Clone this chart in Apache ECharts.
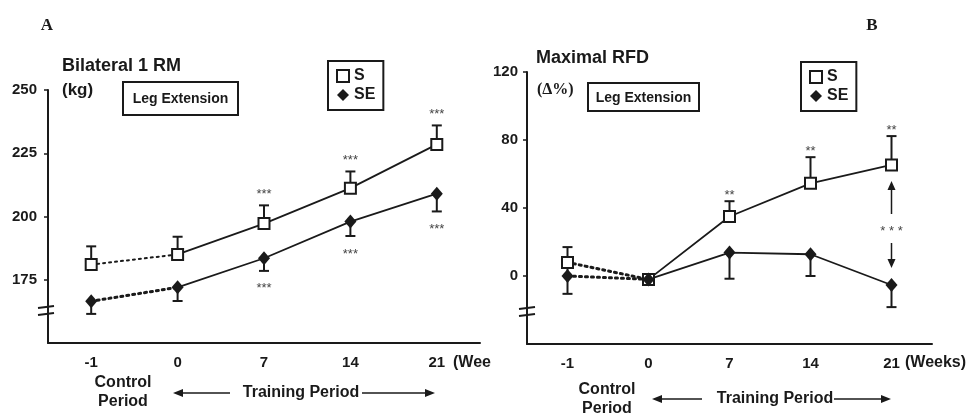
<!DOCTYPE html>
<html>
<head>
<meta charset="utf-8">
<script src="https://cdn.jsdelivr.net/npm/echarts@6/dist/echarts.min.js"></script>
<style>
  html, body { margin: 0; padding: 0; background: #fff; }
  #chart { width: 968px; height: 414px; }
</style>
</head>
<body>
<div id="chart"></div>
<script>
// Measurement weeks (control period at -1, training from 0 to 21)
const weeks = ['-1', '0', '7', '14', '21'];

// Panel A: bilateral 1 RM, leg extension (kg), mean and SE
const rmS      = [181, 185, 197.2, 211.2, 228.5];
const rmSErr   = [7.2, 7, 7.2, 6.6, 7.5];
const rmSE     = [166.5, 172, 183.5, 198, 209];
const rmSEErr  = [5, 5.4, 5, 5.7, 7];
const rmSSig   = ['', '', '***', '***', '***'];
const rmSESig  = ['', '', '***', '***', '***'];

// Panel B: maximal RFD, leg extension (change in %), mean and SE
const rfdS       = [8, -2, 35, 54.5, 65.3];
const rfdSErr    = [9, 0, 9, 15.4, 17];
const rfdSE      = [0, -2, 13.8, 12.8, -5.3];
const rfdSEErr   = [10.5, 0, 15.4, 12.8, 13];
const rfdSEErrUp = [8, 0, 0, 0, 0];
const rfdSSig    = ['', '', '**', '**', '**'];
const rfdSESig   = ['', '', '', '', ''];
// S vs SE difference at week 21
const rfdGapIndex = 4;
const rfdGapSig   = '* * *';

const INK  = '#1a1a1a';
const SANS = '"Liberation Sans", Arial, Helvetica, sans-serif';
const SERIF = '"Liberation Serif", "Times New Roman", serif';
const zeros = weeks.map(() => 0);

const onlyControl  = arr => arr.map((v, i) => (i <= 1 ? v : '-'));
const onlyTraining = arr => arr.map((v, i) => (i >= 1 ? v : '-'));

function lineSeries(p, values, dotted, width) {
  return {
    type: 'line', xAxisIndex: p, yAxisIndex: p, z: 2, silent: true,
    data: dotted ? onlyControl(values) : onlyTraining(values),
    symbol: 'none',
    lineStyle: { color: INK, width: width, type: dotted ? [2, 4] : 'solid', cap: 'round', opacity: 1 }
  };
}

function errorSeries(p, values, hi, lo) {
  return {
    type: 'custom', xAxisIndex: p, yAxisIndex: p, z: 3, silent: true,
    data: values.map((v, i) => [i, v, hi[i], lo[i]]),
    renderItem(params, api) {
      const i = api.value(0), v = api.value(1), h = api.value(2), l = api.value(3);
      if (!(h > 0) && !(l > 0)) return null;
      const top = api.coord([i, v + h]);
      const bot = api.coord([i, v - l]);
      const st = { stroke: INK, lineWidth: 2 };
      const kids = [{ type: 'line', shape: { x1: top[0], y1: top[1], x2: bot[0], y2: bot[1] }, style: st }];
      if (h > 0) kids.push({ type: 'line', shape: { x1: top[0] - 5, y1: top[1], x2: top[0] + 5, y2: top[1] }, style: st });
      if (l > 0) kids.push({ type: 'line', shape: { x1: bot[0] - 5, y1: bot[1], x2: bot[0] + 5, y2: bot[1] }, style: st });
      return { type: 'group', children: kids };
    }
  };
}

// significance marks: dir = +1 above the upper error cap, -1 below the lower one
function sigSeries(p, values, err, sig, dir, gap) {
  return {
    type: 'custom', xAxisIndex: p, yAxisIndex: p, z: 5, silent: true,
    data: values.map((v, i) => [i, v + dir * err[i]]),
    renderItem(params, api) {
      const t = sig[params.dataIndex];
      if (!t) return null;
      const pt = api.coord([api.value(0), api.value(1)]);
      return {
        type: 'text', x: pt[0], y: pt[1] - dir * gap + 3,
        style: { text: t, fill: '#444', font: '13px ' + SANS,
                 align: 'center', verticalAlign: 'middle', textAlign: 'center', textVerticalAlign: 'middle' }
      };
    }
  };
}

function markerSeries(p, name, values) {
  const isS = name === 'S';
  return {
    type: 'scatter', name: name, xAxisIndex: p, yAxisIndex: p, z: isS ? 6 : 7, silent: true,
    data: values,
    symbol: isS ? 'rect' : 'diamond',
    symbolSize: isS ? 11 : [12, 14],
    itemStyle: isS ? { color: '#fff', borderColor: INK, borderWidth: 2, opacity: 1 }
                   : { color: INK, opacity: 1 },
    emphasis: { disabled: true }
  };
}

// arrows with stars between the two groups at one time point
const gapSeries = {
  type: 'custom', xAxisIndex: 1, yAxisIndex: 1, z: 5, silent: true,
  data: [[rfdGapIndex, rfdS[rfdGapIndex], rfdSE[rfdGapIndex]]],
  renderItem(params, api) {
    const a = api.coord([api.value(0), api.value(1)]);
    const b = api.coord([api.value(0), api.value(2)]);
    const x = a[0];
    const mid = (a[1] + b[1]) / 2 + 3;
    const st = { stroke: INK, lineWidth: 1.5 };
    const upTip = a[1] + 16, downTip = b[1] - 17;
    return {
      type: 'group', children: [
        { type: 'line', shape: { x1: x, y1: mid - 14, x2: x, y2: upTip + 6 }, style: st },
        { type: 'polygon', shape: { points: [[x, upTip], [x - 4, upTip + 9], [x + 4, upTip + 9]] }, style: { fill: INK } },
        { type: 'line', shape: { x1: x, y1: mid + 15, x2: x, y2: downTip - 6 }, style: st },
        { type: 'polygon', shape: { points: [[x, downTip], [x - 4, downTip - 9], [x + 4, downTip - 9]] }, style: { fill: INK } },
        { type: 'text', x: x, y: mid + 3,
          style: { text: rfdGapSig, fill: '#444', font: '13px ' + SANS,
                   align: 'center', verticalAlign: 'middle', textAlign: 'center', textVerticalAlign: 'middle' } }
      ]
    };
  }
};

function xAxis(p) {
  return {
    type: 'category', gridIndex: p, data: weeks, boundaryGap: true,
    axisLine: { onZero: false, lineStyle: { color: INK, width: 2 } },
    axisTick: { inside: true, length: 6, alignWithLabel: true, lineStyle: { color: INK, width: 1.5 } },
    axisLabel: { color: INK, fontFamily: SANS, fontWeight: 'bold', fontSize: 15, margin: 12 },
    splitLine: { show: false }
  };
}

function yAxis(p, min, max, interval, margin) {
  return {
    type: 'value', gridIndex: p, min: min, max: max, interval: interval,
    axisLine: { show: true, onZero: false, lineStyle: { color: INK, width: 2 } },
    axisTick: { show: true, length: 4, lineStyle: { color: INK, width: 1.5 } },
    axisLabel: { color: INK, fontFamily: SANS, fontWeight: 'bold', fontSize: 15, margin: margin, showMinLabel: false },
    splitLine: { show: false }
  };
}

function legend(left, top) {
  return {
    show: true, left: left, top: top, orient: 'vertical', selectedMode: false,
    padding: [7, 8, 7, 8], itemGap: 3, itemWidth: 12, itemHeight: 12,
    borderColor: INK, borderWidth: 2, borderRadius: 0, backgroundColor: '#fff',
    textStyle: { color: INK, fontFamily: SANS, fontWeight: 'bold', fontSize: 16 },
    data: [
      { name: 'S', icon: 'rect', itemStyle: { color: '#fff', borderColor: INK, borderWidth: 2, opacity: 1 } },
      { name: 'SE', icon: 'diamond', itemStyle: { color: INK, borderWidth: 0, opacity: 1 } }
    ]
  };
}

function text(x, y, t, font, align, extra) {
  return Object.assign({
    type: 'text', x: x, y: y, silent: true,
    style: { text: t, font: font, fill: INK, align: align || 'left', verticalAlign: 'middle',
             textAlign: align || 'left', textVerticalAlign: 'middle' }
  }, extra || {});
}

function boxLabel(x, y, w, h, t) {
  return [
    { type: 'rect', shape: { x: x, y: y, width: w, height: h }, style: { fill: '#fff', stroke: INK, lineWidth: 2 }, silent: true },
    text(x + w / 2, y + h / 2 + 1, t, 'bold 14px ' + SANS, 'center')
  ];
}

function arrowH(x1, x2, y) {
  // line from x1 to x2 with arrowhead at x2
  const d = x2 > x1 ? 1 : -1;
  return [
    { type: 'line', shape: { x1: x1, y1: y, x2: x2 - d * 8, y2: y }, style: { stroke: INK, lineWidth: 1.5 }, silent: true },
    { type: 'polygon', shape: { points: [[x2, y], [x2 - d * 10, y - 4], [x2 - d * 10, y + 4]] }, style: { fill: INK }, silent: true }
  ];
}

function breakMarks(x, y) {
  const st = { stroke: INK, lineWidth: 1.8 };
  return [
    { type: 'line', shape: { x1: x - 8, y1: y + 1, x2: x + 8, y2: y - 1 }, style: st, silent: true },
    { type: 'line', shape: { x1: x - 8, y1: y + 8, x2: x + 8, y2: y + 6 }, style: st, silent: true }
  ];
}

const graphics = [].concat(
  [
    text(47, 26, 'A', 'bold 17px ' + SERIF, 'center'),
    text(872, 26, 'B', 'bold 17px ' + SERIF, 'center'),
    text(62, 66, 'Bilateral 1 RM', 'bold 18px ' + SANS),
    text(62, 90, '(kg)', 'bold 17px ' + SANS),
    text(536, 58, 'Maximal RFD', 'bold 18px ' + SANS),
    text(537, 90, '(\u0394%)', 'bold 16px ' + SERIF),
    text(453, 363, '(Weeks)', 'bold 16px ' + SANS, 'left',
         { style: { text: '(Weeks)', font: 'bold 16px ' + SANS, fill: INK, align: 'left', verticalAlign: 'middle',
                    textAlign: 'left', textVerticalAlign: 'middle', width: 40, overflow: 'truncate', ellipsis: '' } }),
    text(905, 363, '(Weeks)', 'bold 16px ' + SANS),
    text(123, 383, 'Control', 'bold 16px ' + SANS, 'center'),
    text(123, 402, 'Period', 'bold 16px ' + SANS, 'center'),
    text(301, 393, 'Training Period', 'bold 16px ' + SANS, 'center'),
    text(607, 390, 'Control', 'bold 16px ' + SANS, 'center'),
    text(607, 409, 'Period', 'bold 16px ' + SANS, 'center'),
    text(775, 399, 'Training Period', 'bold 16px ' + SANS, 'center')
  ],
  boxLabel(123, 82, 115, 33, 'Leg Extension'),
  boxLabel(588, 83, 111, 28, 'Leg Extension'),
  arrowH(230, 173, 393), arrowH(362, 435, 393),
  arrowH(702, 652, 399), arrowH(834, 891, 399),
  breakMarks(46, 307), breakMarks(527, 308)
);

const chart = echarts.init(document.getElementById('chart'), null, { renderer: 'canvas' });
chart.setOption({
  backgroundColor: '#fff',
  animation: false,
  grid: [
    { left: 48, top: 90, width: 432, height: 253 },
    { left: 527, top: 72, width: 405, height: 272 }
  ],
  xAxis: [xAxis(0), xAxis(1)],
  yAxis: [yAxis(0, 150, 250, 25, 11), yAxis(1, -40, 120, 40, 9)],
  legend: [legend(328, 61), legend(801, 62)],
  graphic: { elements: graphics },
  series: [
    // Panel A
    lineSeries(0, rmS, true, 2),
    lineSeries(0, rmS, false, 1.8),
    lineSeries(0, rmSE, true, 3),
    lineSeries(0, rmSE, false, 1.8),
    errorSeries(0, rmS, rmSErr, zeros),
    errorSeries(0, rmSE, zeros, rmSEErr),
    sigSeries(0, rmS, rmSErr, rmSSig, 1, 14),
    sigSeries(0, rmSE, rmSEErr, rmSESig, -1, 15),
    markerSeries(0, 'S', rmS),
    markerSeries(0, 'SE', rmSE),
    // Panel B
    lineSeries(1, rfdS, true, 3),
    lineSeries(1, rfdS, false, 1.8),
    lineSeries(1, rfdSE, true, 3),
    lineSeries(1, rfdSE, false, 1.8),
    errorSeries(1, rfdS, rfdSErr, zeros),
    errorSeries(1, rfdSE, rfdSEErrUp, rfdSEErr),
    sigSeries(1, rfdS, rfdSErr, rfdSSig, 1, 9),
    sigSeries(1, rfdSE, rfdSEErr, rfdSESig, -1, 12),
    gapSeries,
    markerSeries(1, 'S', rfdS),
    markerSeries(1, 'SE', rfdSE)
  ]
});
</script>
</body>
</html>
